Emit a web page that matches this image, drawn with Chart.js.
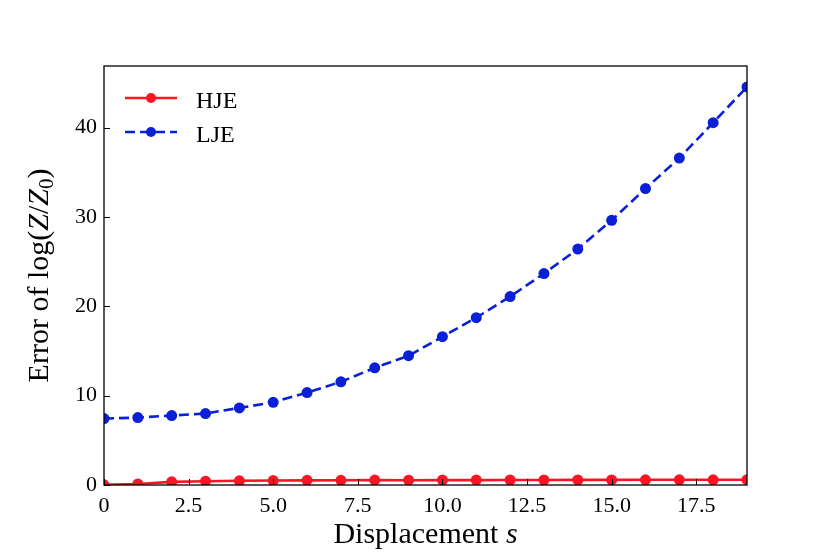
<!DOCTYPE html>
<html>
<head>
<meta charset="utf-8">
<script src="https://cdn.jsdelivr.net/npm/chart.js@4.4.0/dist/chart.umd.min.js"></script>
<style>
  html, body { margin: 0; padding: 0; background: #fff; }
  canvas { display: block; }
</style>
</head>
<body>
<canvas id="errChart" width="830" height="554"></canvas>
<script>
// Displacement s and error of log(Z/Z0)
const displacement = [0, 1, 2, 3, 4, 5, 6, 7, 8, 9, 10, 11, 12, 13, 14, 15, 16, 17, 18, 19];
const hjeError = [0.02, 0.12, 0.35, 0.42, 0.47, 0.50, 0.52, 0.53, 0.55, 0.54, 0.55, 0.55, 0.56, 0.56, 0.57, 0.57, 0.58, 0.58, 0.58, 0.59];
const ljeError = [7.43, 7.55, 7.77, 8.00, 8.63, 9.26, 10.35, 11.55, 13.12, 14.47, 16.60, 18.73, 21.09, 23.67, 26.41, 29.63, 33.18, 36.59, 40.56, 44.56];
const xTicks = [0, 2.5, 5, 7.5, 10, 12.5, 15, 17.5];
const yTicks = [0, 10, 20, 30, 40];

const RED = '#fa1424';
const BLUE = '#0a20d6';
const SERIF = '"Liberation Serif", "Times New Roman", serif';

function toPoints(ys) {
    return displacement.map((x, i) => ({ x: x, y: ys[i] }));
}

// frame, inward ticks, axis titles and legend drawn on top
const decorations = {
    id: 'decorations',
    afterDraw(chart) {
        const ctx = chart.ctx;
        const area = chart.chartArea;
        const xs = chart.scales.x;
        const ys = chart.scales.y;
        ctx.save();
        ctx.strokeStyle = '#000';
        ctx.lineWidth = 1.3;
        ctx.strokeRect(area.left, area.top, area.right - area.left, area.bottom - area.top);

        ctx.lineWidth = 1;
        ctx.beginPath();
        xTicks.forEach(v => {
            const px = Math.round(xs.getPixelForValue(v)) + 0.5;
            ctx.moveTo(px, area.bottom);
            ctx.lineTo(px, area.bottom - 6);
        });
        yTicks.forEach(v => {
            const py = Math.round(ys.getPixelForValue(v)) + 0.5;
            ctx.moveTo(area.left, py);
            ctx.lineTo(area.left + 6, py);
        });
        ctx.stroke();

        ctx.fillStyle = '#000';
        ctx.textBaseline = 'alphabetic';

        // x title: Displacement s
        const fs = 30;
        const normal = fs + 'px ' + SERIF;
        const italic = 'italic ' + fs + 'px ' + SERIF;
        ctx.font = normal;
        const w1 = ctx.measureText('Displacement ').width;
        ctx.font = italic;
        const w2 = ctx.measureText('s').width;
        let x0 = (area.left + area.right) / 2 - (w1 + w2) / 2;
        ctx.font = normal;
        ctx.fillText('Displacement ', x0, 543);
        ctx.font = italic;
        ctx.fillText('s', x0 + w1, 543);

        // y title: Error of log(Z/Z0)
        const parts = [
            { t: 'Error of log(', f: normal, dy: 0 },
            { t: 'Z', f: italic, dy: 0 },
            { t: '/', f: normal, dy: 0 },
            { t: 'Z', f: italic, dy: 0 },
            { t: '0', f: Math.round(fs * 0.7) + 'px ' + SERIF, dy: 5 },
            { t: ')', f: normal, dy: 0 }
        ];
        let total = 0;
        parts.forEach(p => { ctx.font = p.f; p.w = ctx.measureText(p.t).width; total += p.w; });
        ctx.translate(48, (area.top + area.bottom) / 2);
        ctx.rotate(-Math.PI / 2);
        let cx = -total / 2;
        parts.forEach(p => {
            ctx.font = p.f;
            ctx.fillText(p.t, cx, p.dy);
            cx += p.w;
        });
        ctx.setTransform(1, 0, 0, 1, 0, 0);

        // legend
        const entries = [
            { label: 'HJE', color: RED, dash: [], y: 98, base: 108 },
            { label: 'LJE', color: BLUE, dash: [10, 5], y: 132, base: 142 }
        ];
        entries.forEach(e => {
            ctx.strokeStyle = e.color;
            ctx.lineWidth = 2.6;
            ctx.setLineDash(e.dash);
            ctx.beginPath();
            ctx.moveTo(125, e.y);
            ctx.lineTo(177, e.y);
            ctx.stroke();
            ctx.setLineDash([]);
            ctx.fillStyle = e.color;
            ctx.beginPath();
            ctx.arc(151, e.y, 5, 0, Math.PI * 2);
            ctx.fill();
            ctx.fillStyle = '#000';
            ctx.font = '24px ' + SERIF;
            ctx.fillText(e.label, 196, e.base);
        });
        ctx.restore();
    }
};

new Chart(document.getElementById('errChart'), {
    type: 'line',
    data: {
        datasets: [
            {
                label: 'HJE',
                data: toPoints(hjeError),
                borderColor: RED,
                backgroundColor: RED,
                borderWidth: 2.6,
                pointRadius: 5.5,
                pointHoverRadius: 5.5,
                pointBorderWidth: 0,
                tension: 0,
                clip: 0
            },
            {
                label: 'LJE',
                data: toPoints(ljeError),
                borderColor: BLUE,
                backgroundColor: BLUE,
                borderWidth: 2.6,
                borderDash: [10, 5],
                pointRadius: 5.5,
                pointHoverRadius: 5.5,
                pointBorderWidth: 0,
                tension: 0,
                clip: 0
            }
        ]
    },
    options: {
        responsive: false,
        animation: false,
        devicePixelRatio: 1,
        layout: { padding: { left: 0, right: 83, top: 66, bottom: 0 } },
        plugins: {
            legend: { display: false },
            tooltip: { enabled: false }
        },
        scales: {
            x: {
                type: 'linear',
                min: 0,
                max: 19,
                afterFit: s => { s.height = 69; },
                afterBuildTicks: s => { s.ticks = xTicks.map(v => ({ value: v })); },
                grid: { display: false, drawTicks: false },
                border: { display: false },
                ticks: {
                    padding: 8,
                    color: '#000',
                    font: { family: SERIF, size: 22 },
                    callback: v => v === 0 ? '0' : v.toFixed(1)
                }
            },
            y: {
                min: 0,
                max: 46.9,
                afterFit: s => { s.width = 104; },
                afterBuildTicks: s => { s.ticks = yTicks.map(v => ({ value: v })); },
                grid: { display: false, drawTicks: false },
                border: { display: false },
                ticks: {
                    padding: 7,
                    color: '#000',
                    font: { family: SERIF, size: 22 },
                    callback: v => String(v)
                }
            }
        }
    },
    plugins: [decorations]
});
</script>
</body>
</html>
